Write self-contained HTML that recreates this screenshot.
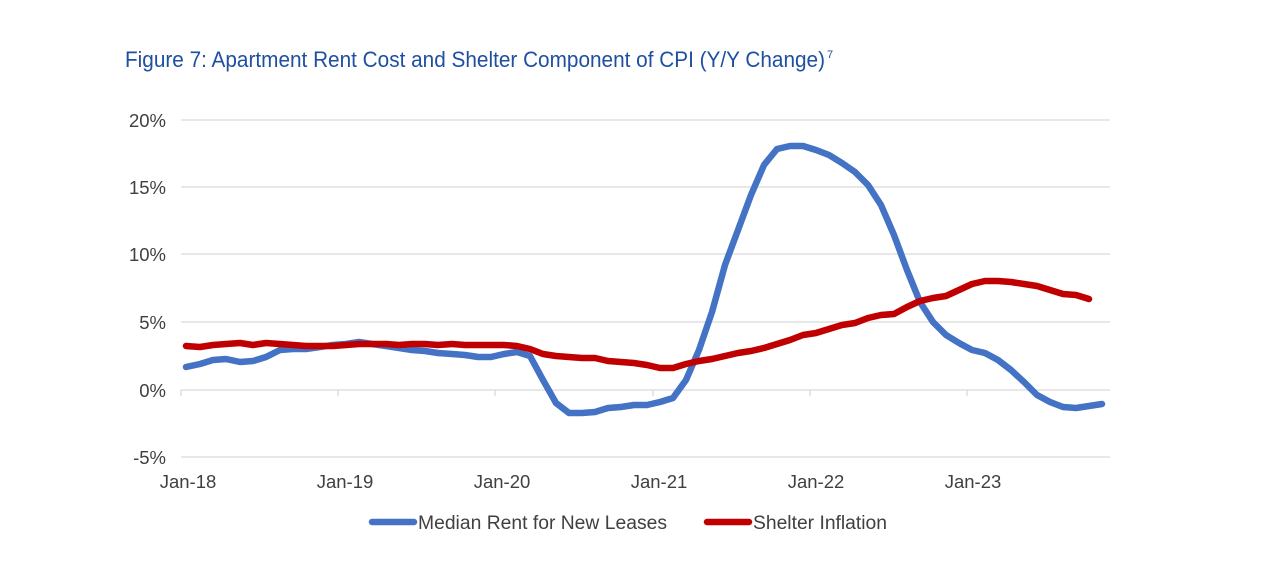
<!DOCTYPE html>
<html><head><meta charset="utf-8"><style>body{margin:0;background:#fff}svg{display:block}</style></head>
<body>
<svg width="1276" height="576" xmlns="http://www.w3.org/2000/svg" font-family="Liberation Sans, Arial, sans-serif">
<rect width="1276" height="576" fill="#fff"/>
<text x="125" y="67" font-size="22" fill="#1f4fa0" font-family="Liberation Sans Narrow, Liberation Sans, sans-serif" textLength="700" lengthAdjust="spacingAndGlyphs">Figure 7: Apartment Rent Cost and Shelter Component of CPI (Y/Y Change)</text>
<text x="827" y="58" font-size="11" fill="#1f4fa0">7</text>
<g stroke="#d9d9d9" stroke-width="1.3">
<line x1="181" y1="120" x2="1110" y2="120"/><line x1="181" y1="187" x2="1110" y2="187"/>
<line x1="181" y1="254" x2="1110" y2="254"/><line x1="181" y1="322" x2="1110" y2="322"/>
<line x1="181" y1="390" x2="1110" y2="390"/><line x1="181" y1="457" x2="1110" y2="457"/>
<line x1="181" y1="390" x2="181" y2="396"/><line x1="338" y1="390" x2="338" y2="396"/><line x1="495" y1="390" x2="495" y2="396"/><line x1="653" y1="390" x2="653" y2="396"/><line x1="810" y1="390" x2="810" y2="396"/><line x1="967" y1="390" x2="967" y2="396"/>
</g>
<g font-size="18.5" fill="#404040" text-anchor="end">
<text x="166" y="127">20%</text><text x="166" y="194">15%</text><text x="166" y="261">10%</text><text x="166" y="329">5%</text><text x="166" y="397">0%</text><text x="166" y="464">-5%</text>
</g>
<g font-size="18.5" fill="#404040" text-anchor="middle">
<text x="188" y="488">Jan-18</text><text x="345" y="488">Jan-19</text><text x="502" y="488">Jan-20</text><text x="659" y="488">Jan-21</text><text x="816" y="488">Jan-22</text><text x="973" y="488">Jan-23</text>
</g>
<polyline fill="none" stroke="#4472c4" stroke-width="6.5" stroke-linejoin="round" stroke-linecap="round" points="186,367 200,364 213,360 226,359 240,362 253,361 266,357 280,350 293,349 306,349 320,347 333,345 346,344 359,342 372,344 386,346 399,348 412,350 425,351 438,353 452,354 465,355 478,357 491,357 504,354 517,352 530,356 543,380 556,403 569,413 582,413 595,412 608,408 621,407 634,405 647,405 660,402 673,398 686,380 699,350 712,312 725,265 738,230 751,195 764,165 777,149 790,146 803,146 816,150 829,155 842,163 855,172 868,185 881,205 894,235 907,270 920,302 933,322 946,335 959,343 972,350 985,353 998,360 1011,370 1024,382 1037,395 1050,402 1063,407 1076,408 1089,406 1102,404"/>
<polyline fill="none" stroke="#c00000" stroke-width="6.5" stroke-linejoin="round" stroke-linecap="round" points="186,346 200,347 213,345 226,344 240,343 253,345 266,343 280,344 293,345 306,346 320,346 333,346 346,345 359,344 372,344 386,344 399,345 412,344 425,344 438,345 452,344 465,345 478,345 491,345 504,345 517,346 530,349 543,354 556,356 569,357 582,358 595,358 608,361 621,362 634,363 647,365 660,368 673,368 686,364 699,361 712,359 725,356 738,353 751,351 764,348 777,344 790,340 803,335 816,333 829,329 842,325 855,323 868,318 881,315 894,314 907,307 920,301 933,298 946,296 959,290 972,284 985,281 998,281 1011,282 1024,284 1037,286 1050,290 1063,294 1076,295 1089,299"/>
<line x1="372" y1="522" x2="414" y2="522" stroke="#4472c4" stroke-width="6.5" stroke-linecap="round"/>
<text x="418" y="529" font-size="19" fill="#404040" textLength="249" lengthAdjust="spacingAndGlyphs">Median Rent for New Leases</text>
<line x1="707" y1="522" x2="749" y2="522" stroke="#c00000" stroke-width="6.5" stroke-linecap="round"/>
<text x="753" y="529" font-size="19" fill="#404040" textLength="134" lengthAdjust="spacingAndGlyphs">Shelter Inflation</text>
</svg>
</body></html>
